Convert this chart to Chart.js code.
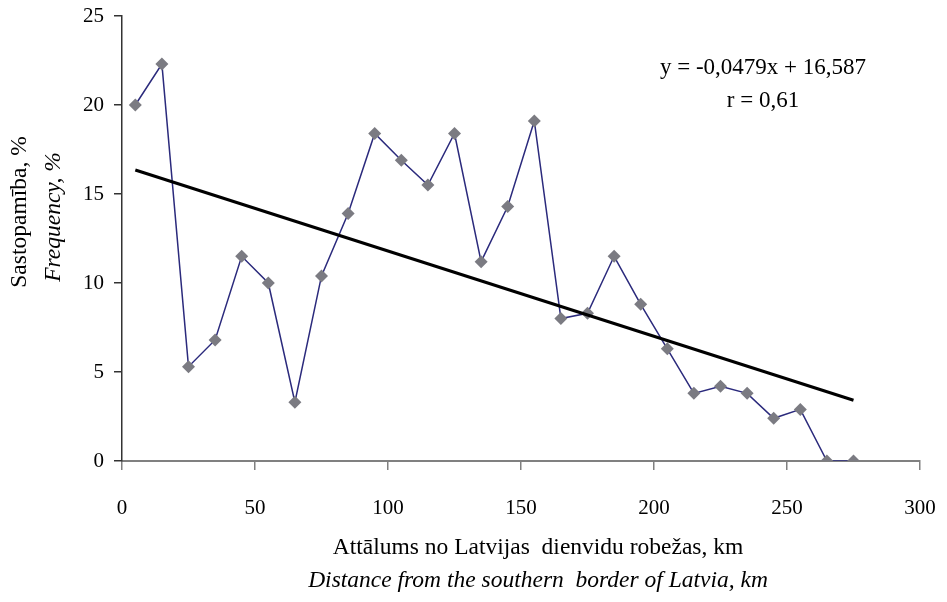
<!DOCTYPE html>
<html>
<head>
<meta charset="utf-8">
<script src="https://cdn.jsdelivr.net/npm/chart.js@4/dist/chart.umd.min.js"></script>
<style>
html,body{margin:0;padding:0;background:#fff;}
#wrap{width:947px;height:602px;}
</style>
</head>
<body>
<div id="wrap"><canvas id="c" width="947" height="602"></canvas></div>
<script>
const distances = [5,15,25,35,45,55,65,75,85,95,105,115,125,135,145,155,165,175,185,195,205,215,225,235,245,255,265,275];
const frequency = [20.0,22.3,5.3,6.8,11.5,10.0,3.3,10.4,13.9,18.4,16.9,15.5,18.4,11.2,14.3,19.1,8.0,8.3,11.5,8.8,6.3,3.8,4.2,3.8,2.4,2.9,0,0];
const trendSlope = -0.0479;
const trendIntercept = 16.587;
const trendRange = [5, 275];
const xTicks = [0,50,100,150,200,250,300];
const yTicks = [0,5,10,15,20,25];
const equationText = "y = -0,0479x + 16,587";
const rText = "r = 0,61";
const xTitle1 = "Attālums no Latvijas  dienvidu robežas, km";
const xTitle2 = "Distance from the southern  border of Latvia, km";
const yTitle1 = "Sastopamība, %";
const yTitle2 = "Frequency, %";

const FONT = "'Liberation Serif', 'DejaVu Serif', serif";

const points = distances.map((x,i)=>({x:x,y:frequency[i]}));
const trend = trendRange.map(x=>({x:x,y:trendSlope*x+trendIntercept}));

const textPlugin = {
  id:'texts',
  afterDraw(chart){
    const ctx = chart.ctx;
    ctx.save();
    ctx.fillStyle = '#000';
    ctx.textAlign = 'center';
    ctx.textBaseline = 'middle';
    ctx.font = "23px " + FONT;
    ctx.fillText(equationText, 763, 68);
    ctx.fillText(rText, 763, 101);
    ctx.font = "23.5px " + FONT;
    ctx.fillText(xTitle1, 538, 548);
    ctx.font = "italic 23.5px " + FONT;
    ctx.fillText(xTitle2, 538, 581);
    ctx.save();
    ctx.translate(20, 212);
    ctx.rotate(-Math.PI/2);
    ctx.font = "23.5px " + FONT;
    ctx.fillText(yTitle1, 0, 0);
    ctx.restore();
    ctx.translate(54, 217);
    ctx.rotate(-Math.PI/2);
    ctx.font = "italic 23.5px " + FONT;
    ctx.fillText(yTitle2, 0, 0);
    ctx.restore();
  }
};

new Chart(document.getElementById('c'), {
  type:'scatter',
  data:{
    datasets:[
      {
        data: points,
        showLine:true,
        borderColor:'#2b2a7c',
        borderWidth:1.5,
        pointStyle:'rectRot',
        pointRadius:6.5,
        pointBackgroundColor:'#7b7b82',
        pointBorderColor:'#7b7b82',
        pointBorderWidth:0,
        tension:0,
        order:2
      },
      {
        data: trend,
        showLine:true,
        borderColor:'#000',
        borderWidth:3,
        pointRadius:0,
        order:1
      }
    ]
  },
  options:{
    responsive:false,
    animation:false,
    devicePixelRatio:1,
    layout:{padding:{left:0,right:27,top:16,bottom:0}},
    plugins:{legend:{display:false},tooltip:{enabled:false}},
    scales:{
      x:{
        type:'linear',
        min:0,max:300,
        afterBuildTicks(s){ s.ticks = xTicks.map(v=>({value:v})); },
        afterFit(s){ s.height = 141; s.paddingLeft = 0; s.paddingRight = 0; },
        border:{display:true,color:'#808080',width:2},
        grid:{display:true,drawOnChartArea:false,drawTicks:true,tickLength:9,color:'#808080',lineWidth:1.5},
        ticks:{color:'#000',font:{family:FONT,size:21},padding:26,maxRotation:0}
      },
      y:{
        type:'linear',
        min:0,max:25,
        afterBuildTicks(s){ s.ticks = yTicks.map(v=>({value:v})); },
        afterFit(s){ s.width = 122; s.paddingTop = 0; s.paddingBottom = 0; },
        border:{display:true,color:'#333',width:1.5},
        grid:{display:true,drawOnChartArea:false,drawTicks:true,tickLength:8,color:'#333',lineWidth:1.5},
        ticks:{color:'#000',font:{family:FONT,size:21},padding:10}
      }
    }
  },
  plugins:[textPlugin]
});
</script>
</body>
</html>
